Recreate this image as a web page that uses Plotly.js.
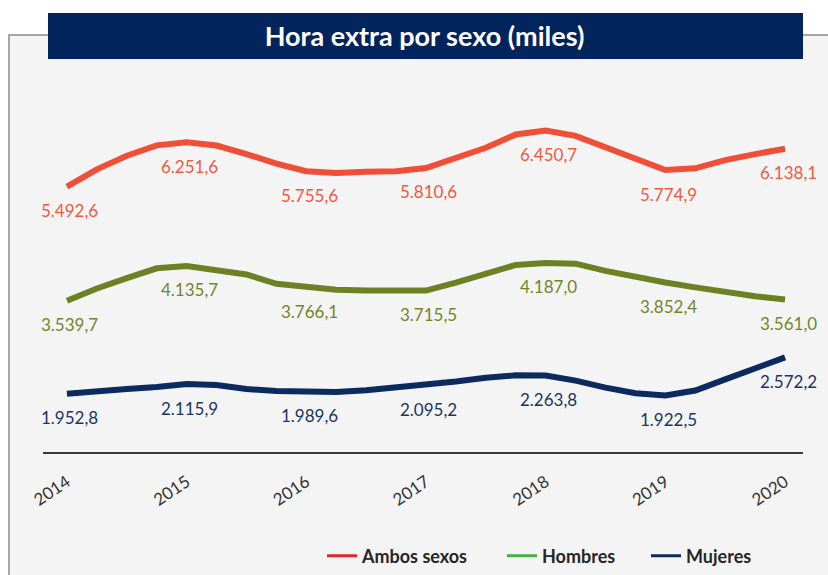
<!DOCTYPE html>
<html><head><meta charset="utf-8">
<script src="https://cdn.plot.ly/plotly-3.0.1.min.js"></script>
<style>html,body{margin:0;padding:0;background:#fff}#chart{width:828px;height:575px}</style>
</head><body><div id="chart"></div>
<script>
// ---- data (thousands) ----
const periodos = [2014, 2014.25, 2014.5, 2014.75,
                  2015, 2015.25, 2015.5, 2015.75,
                  2016, 2016.25, 2016.5, 2016.75,
                  2017, 2017.25, 2017.5, 2017.75,
                  2018, 2018.25, 2018.5, 2018.75,
                  2019, 2019.25, 2019.5, 2019.75,
                  2020];
const anios = [2014, 2015, 2016, 2017, 2018, 2019, 2020];
const aniosTexto = ['2014', '2015', '2016', '2017', '2018', '2019', '2020'];
const ambos = [5492.6, 5788, 6019, 6197,
               6251.6, 6194, 6049, 5885,
               5755.6, 5723, 5746, 5753,
               5810.6, 5989, 6156, 6383,
               6450.7, 6359, 6168, 5952,
               5774.9, 5804, 5945, 6048,
               6138.1];
const hombres = [3539.7, 3750, 3929, 4096,
                 4135.7, 4073, 3990, 3830,
                 3766.1, 3728, 3718, 3715,
                 3715.5, 3850, 4003, 4153,
                 4187.0, 4175, 4052, 3943,
                 3852.4, 3769, 3691, 3617,
                 3561.0];
const mujeres = [1952.8, 2000, 2033, 2067,
                 2115.9, 2101, 2031, 1999,
                 1989.6, 1982, 2010, 2060,
                 2095.2, 2162, 2226, 2267,
                 2263.8, 2175, 2055, 1959,
                 1922.5, 2006, 2197, 2392,
                 2572.2];
const nombres = ['Ambos sexos', 'Hombres', 'Mujeres'];
const titulo = 'Hora extra por sexo (miles)';

// ---- styles ----
const W = 828, H = 575, M = {l: 43, r: 25, t: 100, b: 123};
const PW = W - M.l - M.r, PH = H - M.t - M.b;
const lineColors = ['#F04E37', '#6E8023', '#0C2A5E'];
const textColors = ['#F2583F', '#73852A', '#1A3465'];
const legendColors = ['#E0282C', '#46B04A', '#0C2A5E'];
const FONT = 'Lato, "Open Sans", sans-serif';
const px2x = p => (p - M.l) / PW;
const py2y = p => (H - M.b - p) / PH;

function fmt(v) {
  const s = v.toFixed(1).split('.');
  const ent = s[0].replace(/\B(?=(\d{3})+(?!\d))/g, '.');
  return ent + ',' + s[1];
}

const valores = [ambos, hombres, mujeres];
const traces = [];
valores.forEach((vals, i) => {
  traces.push({
    x: periodos, y: vals, type: 'scatter', mode: 'lines',
    line: {color: lineColors[i], width: 6, shape: 'linear'},
    showlegend: false, hoverinfo: 'skip'
  });
});
const legendIds = ['legend', 'legend2', 'legend3'];
nombres.forEach((n, i) => {
  traces.push({
    x: [null], y: [null], type: 'scatter', mode: 'lines', name: n,
    line: {color: legendColors[i], width: 3},
    showlegend: true, legend: legendIds[i]
  });
});

const annotations = [];
valores.forEach((vals, i) => {
  anios.forEach(a => {
    const k = periodos.indexOf(a);
    annotations.push({
      x: a, y: vals[k], xref: 'x', yref: 'y', text: fmt(vals[k]),
      showarrow: false, xanchor: 'center', yanchor: 'middle',
      xshift: 3, yshift: -24,
      font: {family: FONT, size: 17, color: textColors[i]}
    });
  });
});

const legendBase = {
  orientation: 'h', xref: 'container', yref: 'container',
  yanchor: 'middle', xanchor: 'left', y: 1 - 556 / H,
  bgcolor: 'rgba(0,0,0,0)', borderwidth: 0,
  font: {family: FONT, size: 18, color: '#262626', weight: 'bold'}
};

const layout = {
  width: W, height: H, margin: M,
  paper_bgcolor: '#ffffff', plot_bgcolor: 'rgba(0,0,0,0)',
  separators: ',.',
  title: {
    text: titulo, xref: 'container', yref: 'container',
    x: 424.5 / W, xanchor: 'center', y: 1 - 37 / H, yanchor: 'middle',
    font: {family: FONT, size: 27, color: '#ffffff', weight: 'bold'}
  },
  xaxis: {
    range: [2013.8, 2020.15], tickvals: anios, ticktext: aniosTexto,
    tickangle: -34, showgrid: false, zeroline: false,
    showline: true, linecolor: '#3a3a3a', linewidth: 1.5,
    ticks: '', ticklabelstandoff: 12,
    tickfont: {family: FONT, size: 17, color: '#333333'}, fixedrange: true
  },
  yaxis: {range: [955.6, 6972.6], visible: false, fixedrange: true},
  legend: Object.assign({}, legendBase, {x: 322 / W}),
  legend2: Object.assign({}, legendBase, {x: 502 / W}),
  legend3: Object.assign({}, legendBase, {x: 646 / W}),
  shapes: [
    {type: 'rect', xref: 'paper', yref: 'paper', layer: 'below',
     x0: px2x(9), x1: px2x(845), y0: py2y(600), y1: py2y(35),
     fillcolor: '#f4f4f4', line: {color: '#8a8a8a', width: 1.5}},
    {type: 'rect', xref: 'paper', yref: 'paper', layer: 'below',
     x0: px2x(48), x1: px2x(803), y0: py2y(59), y1: py2y(13),
     fillcolor: '#00245B', line: {width: 0}}
  ],
  annotations: annotations
};

Plotly.newPlot('chart', traces, layout, {displayModeBar: false, staticPlot: true});
</script>
</body></html>
